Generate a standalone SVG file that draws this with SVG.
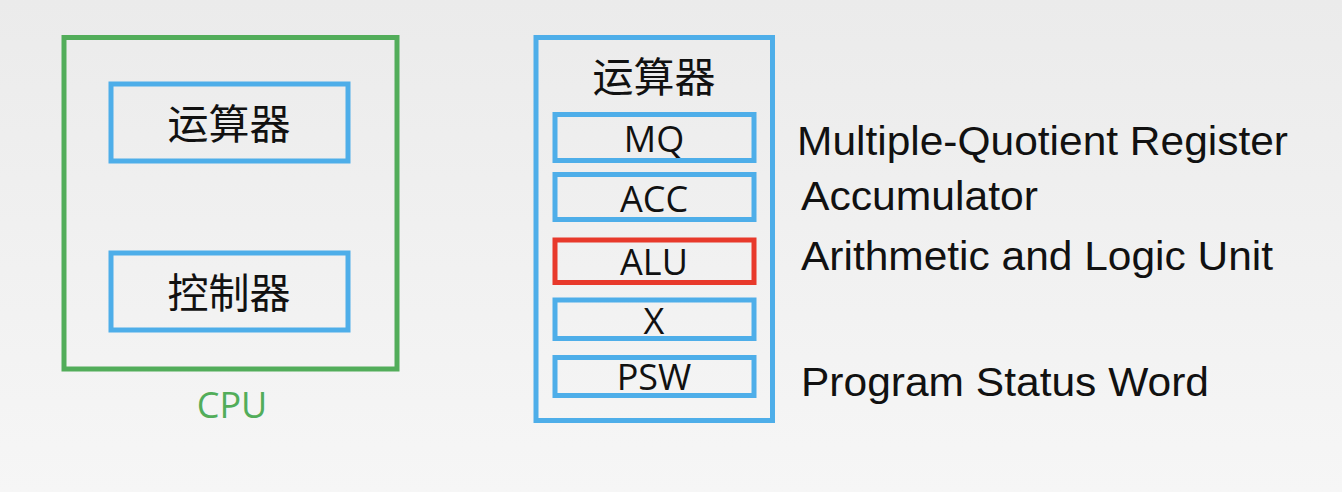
<svg xmlns="http://www.w3.org/2000/svg" width="1342" height="492" viewBox="0 0 1342 492">
  <defs>
    <linearGradient id="bg" x1="0" y1="0" x2="0" y2="1">
      <stop offset="0" stop-color="#ebebeb"/>
      <stop offset="1" stop-color="#f6f6f6"/>
    </linearGradient>
  </defs>
  <style>
    .box { fill: none; stroke-width: 5; }
    .blue { stroke: #4eaee9; }
    .green { stroke: #52ad5a; }
    .red { stroke: #e8392b; }
    .cjk { font-family: "Noto Sans CJK SC", "Noto Sans", sans-serif; font-size: 41px; fill: #111; text-anchor: middle; }
    .reg { font-family: "Open Sans", "Liberation Sans", sans-serif; font-size: 36px; font-weight: 500; fill: #111; text-anchor: middle; }
    .desc { font-family: "Liberation Sans", Arial, sans-serif; font-size: 41.5px; fill: #111; }
  </style>
  <rect width="1342" height="492" fill="url(#bg)"/>

  <g id="cpu">
    <rect class="box green" x="64" y="37.5" width="333" height="331.5"/>
    <text x="232" y="418" font-family="'Open Sans', 'Liberation Sans', sans-serif" font-size="36" fill="#52ad5a" text-anchor="middle">CPU</text>
  </g>
  <g id="alu-unit-left">
    <rect class="box blue" x="111" y="84" width="237" height="77"/>
    <text class="cjk" x="229" y="139">运算器</text>
  </g>
  <g id="control-unit">
    <rect class="box blue" x="111" y="253" width="237" height="77"/>
    <text class="cjk" x="229" y="307.5">控制器</text>
  </g>

  <g id="alu-unit">
    <rect class="box blue" x="536" y="37.5" width="236.5" height="383"/>
    <text class="cjk" x="654" y="91.5">运算器</text>
  </g>
  <g id="mq">
    <rect class="box blue" x="555" y="114.5" width="199" height="46"/>
    <text class="reg" x="654" y="152">MQ</text>
  </g>
  <g id="acc">
    <rect class="box blue" x="555" y="174.5" width="199" height="45"/>
    <text class="reg" x="654" y="211.5">ACC</text>
  </g>
  <g id="alu">
    <rect class="box red" x="555" y="240" width="199" height="42.5"/>
    <text class="reg" x="654" y="275">ALU</text>
  </g>
  <g id="x">
    <rect class="box blue" x="555" y="300" width="199" height="38.5"/>
    <text class="reg" x="654" y="333.5">X</text>
  </g>
  <g id="psw">
    <rect class="box blue" x="555" y="357.5" width="199" height="38"/>
    <text class="reg" x="654" y="390">PSW</text>
  </g>

  <g id="labels">
    <text class="desc" x="797" y="154.5" textLength="491" lengthAdjust="spacingAndGlyphs">Multiple-Quotient Register</text>
    <text class="desc" x="801" y="210" textLength="237" lengthAdjust="spacingAndGlyphs">Accumulator</text>
    <text class="desc" x="801" y="270" textLength="472" lengthAdjust="spacingAndGlyphs">Arithmetic and Logic Unit</text>
    <text class="desc" x="801" y="395.5" textLength="408" lengthAdjust="spacingAndGlyphs">Program Status Word</text>
  </g>

  <g id="connectors"/>
</svg>
